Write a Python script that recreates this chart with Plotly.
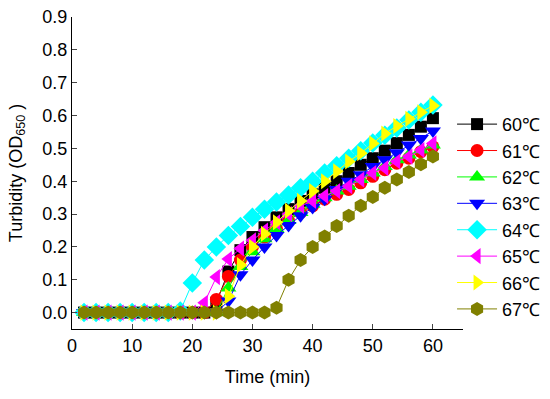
import plotly.graph_objects as go

time_min = list(range(2, 61, 2))

od_60 = [0]*11 + [0.03, 0.125, 0.19, 0.23, 0.26, 0.29, 0.315, 0.34, 0.36, 0.38, 0.40, 0.425, 0.45, 0.47, 0.493, 0.516, 0.541, 0.566, 0.592]
od_61 = [0]*11 + [0.04, 0.11, 0.16, 0.20, 0.23, 0.255, 0.28, 0.305, 0.325, 0.345, 0.36, 0.375, 0.395, 0.415, 0.435, 0.455, 0.47, 0.49, 0.505]
od_62 = [0]*12 + [0.075, 0.14, 0.185, 0.225, 0.255, 0.28, 0.305, 0.33, 0.35, 0.37, 0.385, 0.405, 0.425, 0.445, 0.465, 0.48, 0.495, 0.51]
od_63 = [0]*12 + [0.035, 0.115, 0.16, 0.20, 0.235, 0.265, 0.295, 0.32, 0.345, 0.375, 0.40, 0.42, 0.445, 0.465, 0.487, 0.51, 0.53, 0.553]
od_64 = [0]*8 + [0.005, 0.09, 0.16, 0.20, 0.235, 0.262, 0.29, 0.315, 0.337, 0.358, 0.38, 0.40, 0.425, 0.447, 0.47, 0.493, 0.516, 0.54, 0.562, 0.586, 0.61, 0.632]
od_65 = [0]*10 + [0.03, 0.108, 0.163, 0.195, 0.22, 0.25, 0.275, 0.30, 0.325, 0.34, 0.355, 0.37, 0.385, 0.405, 0.425, 0.44, 0.46, 0.475, 0.495, 0.515]
od_66 = [0]*12 + [0.05, 0.145, 0.20, 0.24, 0.275, 0.31, 0.34, 0.37, 0.40, 0.43, 0.46, 0.485, 0.515, 0.545, 0.568, 0.59, 0.61, 0.63]
od_67 = [0]*16 + [0.015, 0.10, 0.16, 0.20, 0.232, 0.264, 0.295, 0.325, 0.352, 0.38, 0.405, 0.428, 0.452, 0.475]

series_names = ["60℃", "61℃", "62℃", "63℃", "64℃", "65℃", "66℃", "67℃"]
series_values = [od_60, od_61, od_62, od_63, od_64, od_65, od_66, od_67]
colors = ["#000000", "#FF0000", "#00FF00", "#0000FF", "#00FFFF", "#FF00FF", "#FFFF00", "#808000"]
symbols = ["square", "circle", "triangle-up", "triangle-down", "diamond", "triangle-left", "triangle-right", "hexagon"]
sizes = [12, 13, 14, 14, 15, 14, 14, 14]

x_ticks = [0, 10, 20, 30, 40, 50, 60]
y_ticks = [0.0, 0.1, 0.2, 0.3, 0.4, 0.5, 0.6, 0.7, 0.8, 0.9]

font_family = "Arial, Liberation Sans, sans-serif"

fig = go.Figure()
for i, (name, vals) in enumerate(zip(series_names, series_values)):
    fig.add_trace(go.Scatter(
        x=time_min, y=vals, name=name, mode="lines+markers",
        line=dict(color=colors[i], width=1),
        marker=dict(symbol=symbols[i], size=sizes[i], color=colors[i], line=dict(width=0)),
    ))

fig.update_layout(
    width=550, height=399,
    margin=dict(l=72, r=87, t=17, b=70, autoexpand=False),
    paper_bgcolor="white", plot_bgcolor="white",
    font=dict(family=font_family, size=18, color="black"),
    showlegend=True,
    legend=dict(x=0.972, y=0.715, xanchor="left", yanchor="top",
                font=dict(size=18, family=font_family),
                bgcolor="rgba(0,0,0,0)", tracegroupgap=0, itemwidth=40),
    xaxis=dict(range=[0, 65], tickvals=x_ticks, ticks="inside", ticklen=5,
               showline=True, linecolor="black", linewidth=1, showgrid=False, zeroline=False,
               automargin=False,
               title=dict(text="Time (min)", font=dict(size=18)),
               tickfont=dict(size=18)),
    yaxis=dict(range=[-0.05, 0.9], tickvals=y_ticks, tickformat=".1f", ticks="inside", ticklen=5,
               showline=True, linecolor="black", linewidth=1, showgrid=False, zeroline=False,
               automargin=False,
               title=dict(text="Turbidity (OD<sub>650</sub> )", font=dict(size=18)),
               tickfont=dict(size=18)),
)

fig.write_html("out.html", config={"displayModeBar": False},
               post_script="document.body.style.margin='0px';")
